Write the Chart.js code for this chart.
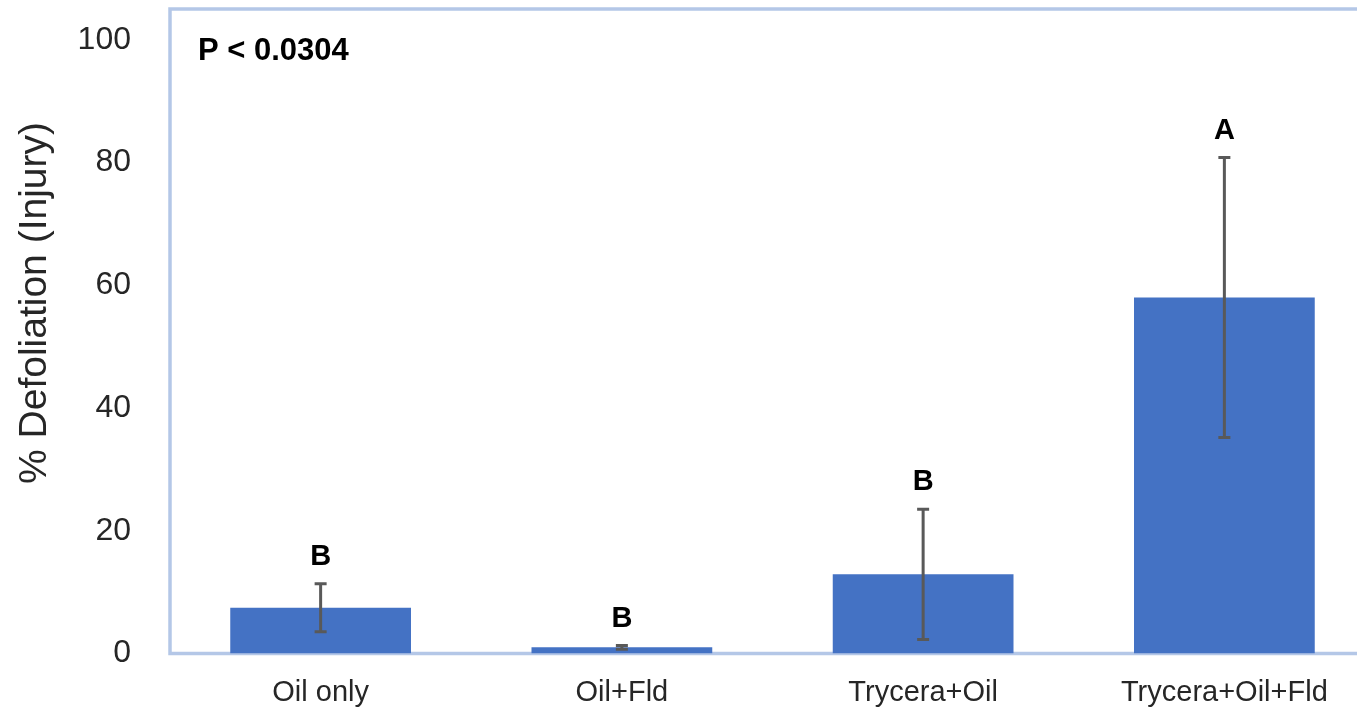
<!DOCTYPE html>
<html>
<head>
<meta charset="utf-8">
<script src="https://cdn.jsdelivr.net/npm/chart.js@4"></script>
<style>
    html, body { margin: 0; padding: 0; background: #fff; overflow: hidden; }
    #wrap { position: absolute; left: 0; top: 0; width: 1380px; height: 714px; }
</style>
</head>
<body>
<div id="wrap"><canvas id="defoliationChart"></canvas></div>
<script>
// ====== data ======
const categories = ['Oil only', 'Oil+Fld', 'Trycera+Oil', 'Trycera+Oil+Fld'];
const meanDefoliation = [7.45, 1.0, 12.9, 58.0];
const stdError = [3.9, 0.3, 10.6, 22.8];
const groupLetters = ['B', 'B', 'B', 'A'];
const yTicks = [0, 20, 40, 60, 80, 100];
const pValueText = 'P < 0.0304';

const FONT = "'Liberation Sans', Arial, sans-serif";

// ====== plot frame (light blue box) ======
const framePlugin = {
    id: 'frame',
    beforeDatasetsDraw(chart) {
        const { ctx, chartArea: a } = chart;
        ctx.save();
        ctx.strokeStyle = '#b4c7e7';
        ctx.lineWidth = 3.5;
        ctx.strokeRect(a.left, a.top, a.right - a.left, a.bottom - a.top);
        ctx.restore();
    }
};

// ====== error bars, letters, p-value, y title ======
const annotatePlugin = {
    id: 'annotate',
    afterDatasetsDraw(chart) {
        const { ctx } = chart;
        const y = chart.scales.y;
        const meta = chart.getDatasetMeta(0);
        ctx.save();

        meta.data.forEach((bar, i) => {
            const top = y.getPixelForValue(meanDefoliation[i] + stdError[i]);
            const bottom = y.getPixelForValue(meanDefoliation[i] - stdError[i]);
            ctx.strokeStyle = '#595959';
            ctx.lineWidth = 3;
            ctx.beginPath();
            ctx.moveTo(bar.x, top);
            ctx.lineTo(bar.x, bottom);
            ctx.moveTo(bar.x - 6, top);
            ctx.lineTo(bar.x + 6, top);
            ctx.moveTo(bar.x - 6, bottom);
            ctx.lineTo(bar.x + 6, bottom);
            ctx.stroke();

            // significance letter
            ctx.fillStyle = '#000';
            ctx.font = 'bold 29px ' + FONT;
            ctx.textAlign = 'center';
            ctx.textBaseline = 'middle';
            ctx.fillText(groupLetters[i], bar.x, top - 27);
        });

        ctx.font = 'bold 31px ' + FONT;
        ctx.textAlign = 'left';
        ctx.textBaseline = 'middle';
        ctx.fillStyle = '#000';
        ctx.fillText(pValueText, 198, 51);

        // y axis title
        ctx.translate(35, 303);
        ctx.rotate(-Math.PI / 2);
        ctx.textAlign = 'center';
        ctx.font = '39px ' + FONT;
        ctx.fillStyle = '#262626';
        ctx.fillText('% Defoliation (Injury)', 0, 0);
        ctx.restore();
    }
};

// ====== chart ======
const ctx = document.getElementById('defoliationChart').getContext('2d');
new Chart(ctx, {
    type: 'bar',
    data: {
        labels: categories,
        datasets: [{
            data: meanDefoliation,
            backgroundColor: '#4472c4',
            borderWidth: 0,
            barPercentage: 0.6,
            categoryPercentage: 1.0
        }]
    },
    options: {
        responsive: true,
        maintainAspectRatio: false,
        animation: false,
        layout: { padding: { top: 9, right: 5, left: 0, bottom: 0 } },
        plugins: {
            legend: { display: false },
            tooltip: { enabled: false }
        },
        scales: {
            x: {
                grid: { display: false, drawTicks: false },
                border: { display: false },
                ticks: {
                    color: '#262626',
                    font: { family: FONT, size: 29 },
                    padding: 22,
                    maxRotation: 0
                },
                afterFit(scale) {
                    scale.height = 60.5;
                    scale.paddingLeft = 0;
                    scale.paddingRight = 0;
                }
            },
            y: {
                min: 0,
                max: 105,
                grid: { display: false, drawTicks: false },
                border: { display: false },
                afterBuildTicks(scale) {
                    scale.ticks = yTicks.map(v => ({ value: v }));
                },
                ticks: {
                    color: '#262626',
                    font: { family: FONT, size: 32 },
                    padding: 39
                },
                afterFit(scale) {
                    // keep tick padding from pushing the plot top down
                    scale.width = 170;
                    scale.paddingTop = 0;
                    scale.paddingBottom = 0;
                }
            }
        }
    },
    plugins: [framePlugin, annotatePlugin]
});
</script>
</body>
</html>
